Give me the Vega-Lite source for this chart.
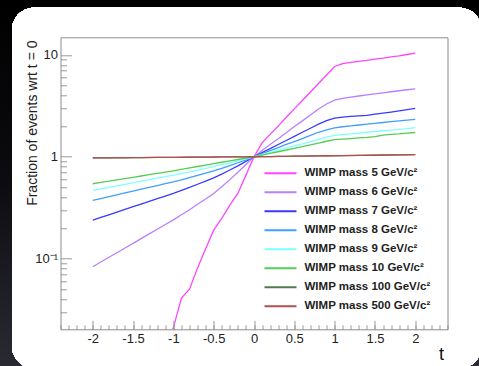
{
"$schema":"https://vega.github.io/schema/vega-lite/v6.json",
"width":387,"height":292,
"autosize":"none",
"padding":{"left":60.5,"top":37.3,"right":31.5,"bottom":36.7},
"background":"#050507",
"config":{"view":{"stroke":null},"font":"Liberation Sans"},
"data":{"values":[
{"t":-1.3,"m":"5","v":0.0045},{"t":-1.2,"m":"5","v":0.0075},{"t":-1.1,"m":"5","v":0.0125},{"t":-1.0,"m":"5","v":0.021},{"t":-0.9,"m":"5","v":0.041},{"t":-0.8,"m":"5","v":0.05},{"t":-0.7,"m":"5","v":0.081},{"t":-0.6,"m":"5","v":0.125},{"t":-0.5,"m":"5","v":0.19},{"t":-0.4,"m":"5","v":0.248},{"t":-0.3,"m":"5","v":0.335},{"t":-0.2,"m":"5","v":0.436},{"t":-0.1,"m":"5","v":0.66},{"t":0,"m":"5","v":1},{"t":0.1,"m":"5","v":1.37},{"t":0.2,"m":"5","v":1.66},{"t":0.3,"m":"5","v":2.0},{"t":0.4,"m":"5","v":2.44},{"t":0.5,"m":"5","v":2.95},{"t":0.6,"m":"5","v":3.57},{"t":0.7,"m":"5","v":4.33},{"t":0.8,"m":"5","v":5.24},{"t":0.9,"m":"5","v":6.35},{"t":1.0,"m":"5","v":7.7},{"t":1.1,"m":"5","v":8.2},{"t":1.2,"m":"5","v":8.45},{"t":1.3,"m":"5","v":8.65},{"t":1.4,"m":"5","v":8.85},{"t":1.5,"m":"5","v":9.1},{"t":1.6,"m":"5","v":9.3},{"t":1.7,"m":"5","v":9.55},{"t":1.8,"m":"5","v":9.8},{"t":1.9,"m":"5","v":10.1},{"t":2.0,"m":"5","v":10.4},
{"t":-2.0,"m":"6","v":0.083},{"t":-1.9,"m":"6","v":0.0925},{"t":-1.8,"m":"6","v":0.103},{"t":-1.7,"m":"6","v":0.114},{"t":-1.6,"m":"6","v":0.127},{"t":-1.5,"m":"6","v":0.141},{"t":-1.4,"m":"6","v":0.157},{"t":-1.3,"m":"6","v":0.175},{"t":-1.2,"m":"6","v":0.194},{"t":-1.1,"m":"6","v":0.216},{"t":-1.0,"m":"6","v":0.24},{"t":-0.9,"m":"6","v":0.269},{"t":-0.8,"m":"6","v":0.302},{"t":-0.7,"m":"6","v":0.341},{"t":-0.6,"m":"6","v":0.385},{"t":-0.5,"m":"6","v":0.436},{"t":-0.4,"m":"6","v":0.507},{"t":-0.3,"m":"6","v":0.596},{"t":-0.2,"m":"6","v":0.705},{"t":-0.1,"m":"6","v":0.838},{"t":0,"m":"6","v":1},{"t":0.1,"m":"6","v":1.15},{"t":0.2,"m":"6","v":1.32},{"t":0.3,"m":"6","v":1.5},{"t":0.4,"m":"6","v":1.72},{"t":0.5,"m":"6","v":1.98},{"t":0.6,"m":"6","v":2.25},{"t":0.7,"m":"6","v":2.57},{"t":0.8,"m":"6","v":2.95},{"t":0.9,"m":"6","v":3.3},{"t":1.0,"m":"6","v":3.6},{"t":1.1,"m":"6","v":3.75},{"t":1.2,"m":"6","v":3.85},{"t":1.3,"m":"6","v":3.95},{"t":1.4,"m":"6","v":4.05},{"t":1.5,"m":"6","v":4.15},{"t":1.6,"m":"6","v":4.25},{"t":1.7,"m":"6","v":4.35},{"t":1.8,"m":"6","v":4.45},{"t":1.9,"m":"6","v":4.55},{"t":2.0,"m":"6","v":4.65},
{"t":-2.0,"m":"7","v":0.239},{"t":-1.9,"m":"7","v":0.254},{"t":-1.8,"m":"7","v":0.269},{"t":-1.7,"m":"7","v":0.286},{"t":-1.6,"m":"7","v":0.304},{"t":-1.5,"m":"7","v":0.323},{"t":-1.4,"m":"7","v":0.343},{"t":-1.3,"m":"7","v":0.364},{"t":-1.2,"m":"7","v":0.387},{"t":-1.1,"m":"7","v":0.411},{"t":-1.0,"m":"7","v":0.436},{"t":-0.9,"m":"7","v":0.468},{"t":-0.8,"m":"7","v":0.5},{"t":-0.7,"m":"7","v":0.537},{"t":-0.6,"m":"7","v":0.575},{"t":-0.5,"m":"7","v":0.62},{"t":-0.4,"m":"7","v":0.676},{"t":-0.3,"m":"7","v":0.741},{"t":-0.2,"m":"7","v":0.813},{"t":-0.1,"m":"7","v":0.9},{"t":0,"m":"7","v":1},{"t":0.1,"m":"7","v":1.096},{"t":0.2,"m":"7","v":1.2},{"t":0.3,"m":"7","v":1.32},{"t":0.4,"m":"7","v":1.445},{"t":0.5,"m":"7","v":1.585},{"t":0.6,"m":"7","v":1.74},{"t":0.7,"m":"7","v":1.905},{"t":0.8,"m":"7","v":2.09},{"t":0.9,"m":"7","v":2.26},{"t":1.0,"m":"7","v":2.39},{"t":1.1,"m":"7","v":2.45},{"t":1.2,"m":"7","v":2.49},{"t":1.3,"m":"7","v":2.52},{"t":1.4,"m":"7","v":2.55},{"t":1.5,"m":"7","v":2.62},{"t":1.6,"m":"7","v":2.68},{"t":1.7,"m":"7","v":2.75},{"t":1.8,"m":"7","v":2.82},{"t":1.9,"m":"7","v":2.9},{"t":2.0,"m":"7","v":2.98},
{"t":-2.0,"m":"8","v":0.372},{"t":-1.9,"m":"8","v":0.388},{"t":-1.8,"m":"8","v":0.405},{"t":-1.7,"m":"8","v":0.423},{"t":-1.6,"m":"8","v":0.441},{"t":-1.5,"m":"8","v":0.46},{"t":-1.4,"m":"8","v":0.48},{"t":-1.3,"m":"8","v":0.5},{"t":-1.2,"m":"8","v":0.521},{"t":-1.1,"m":"8","v":0.544},{"t":-1.0,"m":"8","v":0.568},{"t":-0.9,"m":"8","v":0.594},{"t":-0.8,"m":"8","v":0.624},{"t":-0.7,"m":"8","v":0.656},{"t":-0.6,"m":"8","v":0.69},{"t":-0.5,"m":"8","v":0.728},{"t":-0.4,"m":"8","v":0.77},{"t":-0.3,"m":"8","v":0.818},{"t":-0.2,"m":"8","v":0.873},{"t":-0.1,"m":"8","v":0.933},{"t":0,"m":"8","v":1},{"t":0.1,"m":"8","v":1.07},{"t":0.2,"m":"8","v":1.15},{"t":0.3,"m":"8","v":1.23},{"t":0.4,"m":"8","v":1.32},{"t":0.5,"m":"8","v":1.41},{"t":0.6,"m":"8","v":1.51},{"t":0.7,"m":"8","v":1.62},{"t":0.8,"m":"8","v":1.74},{"t":0.9,"m":"8","v":1.84},{"t":1.0,"m":"8","v":1.92},{"t":1.1,"m":"8","v":1.97},{"t":1.2,"m":"8","v":2.01},{"t":1.3,"m":"8","v":2.05},{"t":1.4,"m":"8","v":2.09},{"t":1.5,"m":"8","v":2.13},{"t":1.6,"m":"8","v":2.17},{"t":1.7,"m":"8","v":2.21},{"t":1.8,"m":"8","v":2.25},{"t":1.9,"m":"8","v":2.29},{"t":2.0,"m":"8","v":2.33},
{"t":-2.0,"m":"9","v":0.467},{"t":-1.9,"m":"9","v":0.483},{"t":-1.8,"m":"9","v":0.5},{"t":-1.7,"m":"9","v":0.518},{"t":-1.6,"m":"9","v":0.536},{"t":-1.5,"m":"9","v":0.555},{"t":-1.4,"m":"9","v":0.575},{"t":-1.3,"m":"9","v":0.595},{"t":-1.2,"m":"9","v":0.616},{"t":-1.1,"m":"9","v":0.638},{"t":-1.0,"m":"9","v":0.66},{"t":-0.9,"m":"9","v":0.684},{"t":-0.8,"m":"9","v":0.71},{"t":-0.7,"m":"9","v":0.738},{"t":-0.6,"m":"9","v":0.767},{"t":-0.5,"m":"9","v":0.8},{"t":-0.4,"m":"9","v":0.836},{"t":-0.3,"m":"9","v":0.873},{"t":-0.2,"m":"9","v":0.912},{"t":-0.1,"m":"9","v":0.955},{"t":0,"m":"9","v":1},{"t":0.1,"m":"9","v":1.05},{"t":0.2,"m":"9","v":1.105},{"t":0.3,"m":"9","v":1.16},{"t":0.4,"m":"9","v":1.22},{"t":0.5,"m":"9","v":1.28},{"t":0.6,"m":"9","v":1.34},{"t":0.7,"m":"9","v":1.41},{"t":0.8,"m":"9","v":1.48},{"t":0.9,"m":"9","v":1.56},{"t":1.0,"m":"9","v":1.62},{"t":1.1,"m":"9","v":1.65},{"t":1.2,"m":"9","v":1.68},{"t":1.3,"m":"9","v":1.71},{"t":1.4,"m":"9","v":1.74},{"t":1.5,"m":"9","v":1.77},{"t":1.6,"m":"9","v":1.8},{"t":1.7,"m":"9","v":1.83},{"t":1.8,"m":"9","v":1.86},{"t":1.9,"m":"9","v":1.89},{"t":2.0,"m":"9","v":1.93},
{"t":-2.0,"m":"10","v":0.543},{"t":-1.9,"m":"10","v":0.56},{"t":-1.8,"m":"10","v":0.575},{"t":-1.7,"m":"10","v":0.593},{"t":-1.6,"m":"10","v":0.611},{"t":-1.5,"m":"10","v":0.628},{"t":-1.4,"m":"10","v":0.647},{"t":-1.3,"m":"10","v":0.667},{"t":-1.2,"m":"10","v":0.687},{"t":-1.1,"m":"10","v":0.707},{"t":-1.0,"m":"10","v":0.728},{"t":-0.9,"m":"10","v":0.751},{"t":-0.8,"m":"10","v":0.776},{"t":-0.7,"m":"10","v":0.802},{"t":-0.6,"m":"10","v":0.828},{"t":-0.5,"m":"10","v":0.855},{"t":-0.4,"m":"10","v":0.883},{"t":-0.3,"m":"10","v":0.912},{"t":-0.2,"m":"10","v":0.94},{"t":-0.1,"m":"10","v":0.97},{"t":0,"m":"10","v":1},{"t":0.1,"m":"10","v":1.04},{"t":0.2,"m":"10","v":1.08},{"t":0.3,"m":"10","v":1.12},{"t":0.4,"m":"10","v":1.165},{"t":0.5,"m":"10","v":1.21},{"t":0.6,"m":"10","v":1.26},{"t":0.7,"m":"10","v":1.31},{"t":0.8,"m":"10","v":1.36},{"t":0.9,"m":"10","v":1.42},{"t":1.0,"m":"10","v":1.47},{"t":1.1,"m":"10","v":1.49},{"t":1.2,"m":"10","v":1.51},{"t":1.3,"m":"10","v":1.53},{"t":1.4,"m":"10","v":1.55},{"t":1.5,"m":"10","v":1.58},{"t":1.6,"m":"10","v":1.63},{"t":1.7,"m":"10","v":1.66},{"t":1.8,"m":"10","v":1.68},{"t":1.9,"m":"10","v":1.71},{"t":2.0,"m":"10","v":1.73},
{"t":-2.0,"m":"100","v":0.973},{"t":-1.9,"m":"100","v":0.974},{"t":-1.8,"m":"100","v":0.976},{"t":-1.7,"m":"100","v":0.977},{"t":-1.6,"m":"100","v":0.978},{"t":-1.5,"m":"100","v":0.98},{"t":-1.4,"m":"100","v":0.981},{"t":-1.3,"m":"100","v":0.982},{"t":-1.2,"m":"100","v":0.984},{"t":-1.1,"m":"100","v":0.985},{"t":-1.0,"m":"100","v":0.986},{"t":-0.9,"m":"100","v":0.988},{"t":-0.8,"m":"100","v":0.989},{"t":-0.7,"m":"100","v":0.99},{"t":-0.6,"m":"100","v":0.992},{"t":-0.5,"m":"100","v":0.993},{"t":-0.4,"m":"100","v":0.995},{"t":-0.3,"m":"100","v":0.996},{"t":-0.2,"m":"100","v":0.997},{"t":-0.1,"m":"100","v":0.999},{"t":0,"m":"100","v":1},{"t":0.1,"m":"100","v":1.003},{"t":0.2,"m":"100","v":1.005},{"t":0.3,"m":"100","v":1.008},{"t":0.4,"m":"100","v":1.01},{"t":0.5,"m":"100","v":1.013},{"t":0.6,"m":"100","v":1.015},{"t":0.7,"m":"100","v":1.018},{"t":0.8,"m":"100","v":1.02},{"t":0.9,"m":"100","v":1.023},{"t":1.0,"m":"100","v":1.025},{"t":1.1,"m":"100","v":1.028},{"t":1.2,"m":"100","v":1.03},{"t":1.3,"m":"100","v":1.033},{"t":1.4,"m":"100","v":1.035},{"t":1.5,"m":"100","v":1.038},{"t":1.6,"m":"100","v":1.04},{"t":1.7,"m":"100","v":1.043},{"t":1.8,"m":"100","v":1.045},{"t":1.9,"m":"100","v":1.048},{"t":2.0,"m":"100","v":1.05},
{"t":-2.0,"m":"500","v":0.975},{"t":-1.9,"m":"500","v":0.976},{"t":-1.8,"m":"500","v":0.977},{"t":-1.7,"m":"500","v":0.979},{"t":-1.6,"m":"500","v":0.98},{"t":-1.5,"m":"500","v":0.981},{"t":-1.4,"m":"500","v":0.982},{"t":-1.3,"m":"500","v":0.984},{"t":-1.2,"m":"500","v":0.985},{"t":-1.1,"m":"500","v":0.986},{"t":-1.0,"m":"500","v":0.987},{"t":-0.9,"m":"500","v":0.989},{"t":-0.8,"m":"500","v":0.99},{"t":-0.7,"m":"500","v":0.991},{"t":-0.6,"m":"500","v":0.992},{"t":-0.5,"m":"500","v":0.994},{"t":-0.4,"m":"500","v":0.995},{"t":-0.3,"m":"500","v":0.996},{"t":-0.2,"m":"500","v":0.998},{"t":-0.1,"m":"500","v":0.999},{"t":0,"m":"500","v":1},{"t":0.1,"m":"500","v":1.002},{"t":0.2,"m":"500","v":1.005},{"t":0.3,"m":"500","v":1.007},{"t":0.4,"m":"500","v":1.009},{"t":0.5,"m":"500","v":1.012},{"t":0.6,"m":"500","v":1.014},{"t":0.7,"m":"500","v":1.016},{"t":0.8,"m":"500","v":1.019},{"t":0.9,"m":"500","v":1.021},{"t":1.0,"m":"500","v":1.023},{"t":1.1,"m":"500","v":1.026},{"t":1.2,"m":"500","v":1.028},{"t":1.3,"m":"500","v":1.03},{"t":1.4,"m":"500","v":1.033},{"t":1.5,"m":"500","v":1.035},{"t":1.6,"m":"500","v":1.037},{"t":1.7,"m":"500","v":1.04},{"t":1.8,"m":"500","v":1.042},{"t":1.9,"m":"500","v":1.044},{"t":2.0,"m":"500","v":1.047}
]},
"resolve":{"axis":{"x":"independent","y":"independent"}},
"layer":[
{"mark":{"type":"rect","clip":false,"color":{"gradient":"linear","x1":0,"y1":0,"x2":0,"y2":1,"stops":[{"offset":0,"color":"#000000"},{"offset":0.5,"color":"#0c0c10"},{"offset":1,"color":"#2a2a33"}]}},
 "encoding":{
  "x":{"datum":-3.3,"type":"quantitative","scale":{"domain":[-2.4,2.4],"nice":false,"zero":false},
       "axis":{"orient":"bottom","values":[-2.4,-2.3,-2.2,-2.1,-2,-1.9,-1.8,-1.7,-1.6,-1.5,-1.4,-1.3,-1.2,-1.1,-1,-0.9,-0.8,-0.7,-0.6,-0.5,-0.4,-0.3,-0.2,-0.1,0,0.1,0.2,0.3,0.4,0.5,0.6,0.7,0.8,0.9,1,1.1,1.2,1.3,1.4,1.5,1.6,1.7,1.8,1.9,2,2.1,2.2,2.3,2.4],
               "tickSize":-4.5,"tickColor":"#9a9a9a","labels":false,"domain":false,"grid":false,"title":null,"zindex":1}},
  "x2":{"datum":3.6},
  "y":{"datum":36,"type":"quantitative","scale":{"type":"log","domain":[0.0202,14.9],"nice":false},
       "axis":{"orient":"left","values":[0.03,0.04,0.05,0.06,0.07,0.08,0.09,0.2,0.3,0.4,0.5,0.6,0.7,0.8,0.9,2,3,4,5,6,7,8,9],
               "tickSize":-6,"tickColor":"#9a9a9a","labels":false,"domain":false,"grid":false,"title":null,"zindex":1}},
  "y2":{"datum":0.0085}}},
{"mark":{"type":"rect","clip":false,"color":"#ffffff","cornerRadius":22},
 "encoding":{
  "x":{"datum":-3.0,"type":"quantitative","scale":{"domain":[-2.4,2.4],"nice":false,"zero":false},
       "axis":{"orient":"top","ticks":false,"labels":false,"domain":true,"domainColor":"#8c8c8c","grid":false,"title":null,"zindex":1}},
  "x2":{"datum":2.82},
  "y":{"datum":29,"type":"quantitative","scale":{"type":"log","domain":[0.0202,14.9],"nice":false},
       "axis":{"orient":"right","ticks":false,"labels":false,"domain":true,"domainColor":"#8c8c8c","grid":false,"title":null,"zindex":1}},
  "y2":{"datum":0.00835}}},
{"mark":{"type":"line","clip":true,"strokeWidth":1.3},
 "encoding":{
  "x":{"field":"t","type":"quantitative","scale":{"domain":[-2.4,2.4],"nice":false,"zero":false},
       "axis":{"orient":"bottom","values":[-2,-1.5,-1,-0.5,0,0.5,1,1.5,2],"labelExpr":"toString(datum.value)",
               "tickSize":-9,"tickColor":"#9a9a9a","domainColor":"#8c8c8c","grid":false,
               "labelFont":"Liberation Sans","labelFontSize":13,"labelColor":"#222222","labelPadding":12,"labelFlush":false,"labelOverlap":false,
               "title":"t","titleFont":"Liberation Sans","titleFontSize":18,"titleFontWeight":"normal","titleColor":"#111111",
               "titleX":383,"titleY":30,"titleAlign":"right","titleBaseline":"alphabetic","zindex":1}},
  "y":{"field":"v","type":"quantitative","scale":{"type":"log","domain":[0.0202,14.9],"nice":false},
       "axis":{"orient":"left","values":[0.1,1,10],"labelExpr":"datum.value < 0.5 ? '10⁻¹' : (datum.value < 5 ? '1' : '10')",
               "tickSize":-11,"tickColor":"#9a9a9a","domainColor":"#8c8c8c","grid":false,
               "labelFont":"Liberation Sans","labelFontSize":13,"labelColor":"#222222","labelPadding":14,"labelFlush":false,"labelOverlap":false,
               "title":"Fraction of events wrt t = 0","titleFont":"Liberation Sans","titleFontSize":14,"titleFontWeight":"normal","titleColor":"#222222",
               "titleX":-24.5,"titleY":2.7,"titleAlign":"right","titleAngle":270,"titleBaseline":"alphabetic","zindex":1}},
  "color":{"field":"m","type":"nominal",
       "scale":{"domain":["5","6","7","8","9","10","100","500"],"range":["#ff44ff","#b880ff","#3a3aff","#3f9fff","#80ffff","#55cc55","#4f7d4f","#b54f4f"]},
       "legend":{"orient":"none","legendX":203,"legendY":130,"title":null,"padding":0,
                 "symbolType":"stroke","symbolSize":1024,"symbolStrokeWidth":2,"clipHeight":12,"rowPadding":7,"labelOffset":7,
                 "labelFont":"Liberation Sans","labelFontWeight":"bold","labelFontSize":11.5,"labelColor":"#222222",
                 "labelExpr":"'WIMP mass ' + datum.label + ' GeV/c²'"}}}}
]
}
